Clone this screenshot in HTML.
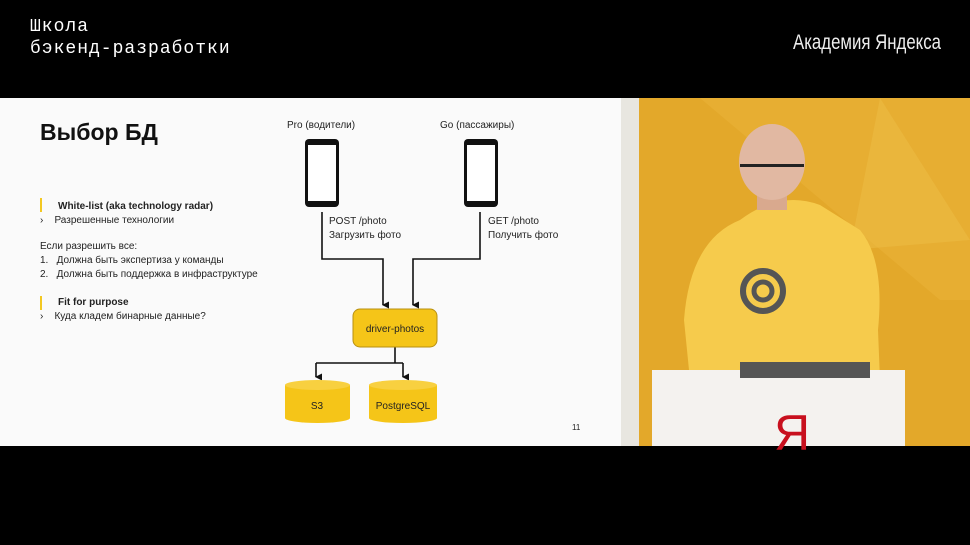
<!DOCTYPE html>
<html><head><meta charset="utf-8"><style>
body{margin:0;width:970px;height:545px;background:#000;position:relative;overflow:hidden;font-family:"Liberation Sans",Arial,sans-serif}
.a{position:absolute}
</style></head><body>
<div class="a" style="left:30px;top:16px;color:#fff;font-family:'Liberation Mono',monospace;font-size:18px;line-height:22px;letter-spacing:1px">Школа<br>бэкенд-разработки</div>
<div class="a" style="left:793px;top:31px;color:#eee;font-size:21px;white-space:nowrap;transform:scaleX(0.8);transform-origin:left">Академия Яндекса</div>
<div class="a" style="left:0;top:98px;width:621px;height:348px;background:#fafafa"></div>
<div class="a" style="left:40px;top:119px;font-size:23px;font-weight:bold;color:#111">Выбор БД</div>
<div class="a" style="left:40px;top:198px;width:2px;height:14px;background:#f3c822"></div>
<div class="a" style="left:40px;top:296px;width:2px;height:14px;background:#f3c822"></div>
<div class="a" style="left:40px;top:200px;font-size:10px;line-height:14px;color:#222">
<div style="padding-left:18px;font-weight:bold">White-list (aka technology radar)</div>
<div>›&nbsp;&nbsp;&nbsp;&nbsp;Разрешенные технологии</div>
<div style="margin-top:12px">Если разрешить все:</div>
<div>1.&nbsp;&nbsp;&nbsp;Должна быть экспертиза у команды</div>
<div>2.&nbsp;&nbsp;&nbsp;Должна быть поддержка в инфраструктуре</div>
<div style="padding-left:18px;font-weight:bold;margin-top:14px">Fit for purpose</div>
<div>›&nbsp;&nbsp;&nbsp;&nbsp;Куда кладем бинарные данные?</div>
</div>
<svg class="a" style="left:0;top:0" width="970" height="545">
<defs><marker id="m" markerWidth="8" markerHeight="8" refX="3.5" refY="6" orient="auto-start-reverse" markerUnits="userSpaceOnUse"><path d="M0,0 L7,0 L3.5,7z" fill="#111"/></marker></defs>
<g font-size="10" fill="#222">
<text x="287" y="128">Pro (водители)</text>
<text x="440" y="128">Go (пассажиры)</text>
<text x="329" y="224">POST /photo</text><text x="329" y="238">Загрузить фото</text>
<text x="488" y="224">GET /photo</text><text x="488" y="238">Получить фото</text>
<text x="572" y="430" font-size="8">11</text>
</g>
<rect x="305" y="139" width="34" height="68" rx="4" fill="#111"/><rect x="308" y="145" width="28" height="56" fill="#fff"/>
<rect x="464" y="139" width="34" height="68" rx="4" fill="#111"/><rect x="467" y="145" width="28" height="56" fill="#fff"/>
<g stroke="#111" stroke-width="1.6" fill="none">
<path d="M322,212 V259 H383 V305" marker-end="url(#m)"/>
<path d="M480,212 V259 H413 V305" marker-end="url(#m)"/>
<path d="M395,347 V363 M316,363 H403"/>
<path d="M316,363 V377" marker-end="url(#m)"/>
<path d="M403,363 V377" marker-end="url(#m)"/>
</g>
<rect x="353" y="309" width="84" height="38" rx="7" fill="#f5c518" stroke="#b89010"/>
<text x="395" y="332" font-size="10" text-anchor="middle" fill="#222">driver-photos</text>
<path d="M285,385 V418 A32.5,5 0 0 0 350,418 V385z" fill="#f5c518"/><ellipse cx="317.5" cy="385" rx="32.5" ry="5" fill="#f8d040"/>
<path d="M369,385 V418 A34,5 0 0 0 437,418 V385z" fill="#f5c518"/><ellipse cx="403" cy="385" rx="34" ry="5" fill="#f8d040"/>
<text x="317" y="409" font-size="10" text-anchor="middle" fill="#222">S3</text>
<text x="403" y="409" font-size="10" text-anchor="middle" fill="#222">PostgreSQL</text>
<rect x="621" y="98" width="349" height="348" fill="#e3a82a"/>
<rect x="621" y="98" width="18" height="348" fill="#e8e6e0"/>
<path d="M700,98 L940,300 L970,300 L970,98z" fill="#e9b338" opacity=".6"/>
<path d="M880,98 L850,250 L970,240z" fill="#eebd45" opacity=".5"/>
<path d="M740,220 Q780,190 820,205 L860,230 Q885,260 878,330 L880,380 L690,380 L684,320 Q690,240 740,220z" fill="#f6cb4c"/>
<rect x="757" y="185" width="30" height="25" fill="#d9a98e"/>
<ellipse cx="772" cy="162" rx="33" ry="38" fill="#e1b8a2"/>
<rect x="740" y="164" width="64" height="3" fill="#222"/>
<circle cx="763" cy="291" r="20" fill="none" stroke="#555" stroke-width="6"/>
<circle cx="763" cy="291" r="9" fill="none" stroke="#555" stroke-width="5"/>
<rect x="652" y="370" width="253" height="76" fill="#f4f2ef"/>
<rect x="740" y="362" width="130" height="16" fill="#555"/>
<text x="774" y="450" font-size="50" fill="#c8101e">Я</text>
</svg>
</body></html>
